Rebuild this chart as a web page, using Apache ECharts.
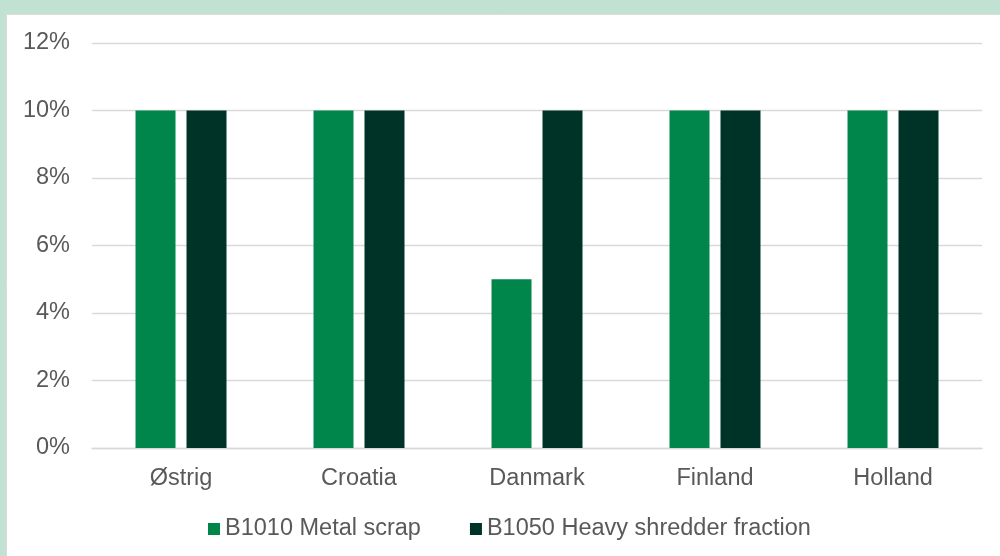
<!DOCTYPE html>
<html>
<head>
<meta charset="utf-8">
<script src="https://cdn.jsdelivr.net/npm/echarts@6/dist/echarts.min.js"></script>
<style>
html,body{margin:0;padding:0;background:#c1e1d3;}
#chart{width:1000px;height:556px;}
</style>
</head>
<body>
<div id="chart"></div>
<script>
const categories = ['Østrig', 'Croatia', 'Danmark', 'Finland', 'Holland'];
const metalScrap = [10, 10, 5, 10, 10];
const heavyShredder = [10, 10, 10, 10, 10];
const seriesNames = ['B1010 Metal scrap', 'B1050 Heavy shredder fraction'];

const chart = echarts.init(document.getElementById('chart'), null, {renderer: 'canvas'});
const font = 'Liberation Sans, Arial, sans-serif';
chart.setOption({
  backgroundColor: '#c1e1d3',
  animation: false,
  graphic: [{
    type: 'rect', left: 6, top: 14, z: -10,
    shape: {width: 1000, height: 560},
    style: {fill: '#ffffff', stroke: '#dcdcdc', lineWidth: 1}
  }],
  grid: {left: 92, right: 18, top: 43, bottom: 108, containLabel: false},
  legend: {
    left: 203, top: 512,
    itemWidth: 12, itemHeight: 12, itemGap: 49,
    icon: 'rect',
    textStyle: {fontFamily: font, fontSize: 23.5, color: '#595959'},
    data: seriesNames
  },
  xAxis: {
    type: 'category', data: categories,
    axisLine: {show: true, lineStyle: {color: '#d9d9d9', width: 1.3}},
    axisTick: {show: false},
    axisLabel: {fontFamily: font, fontSize: 23.5, color: '#595959', margin: 19}
  },
  yAxis: {
    type: 'value', min: 0, max: 12, interval: 2,
    axisLine: {show: false}, axisTick: {show: false},
    splitLine: {lineStyle: {color: '#d9d9d9', width: 1.3}},
    axisLabel: {fontFamily: font, fontSize: 23.5, color: '#595959', margin: 22, formatter: '{value}%'}
  },
  series: [
    {name: seriesNames[0], type: 'bar', data: metalScrap, barWidth: 40, barGap: '27.5%',
     itemStyle: {color: '#00854a'}},
    {name: seriesNames[1], type: 'bar', data: heavyShredder, barWidth: 40,
     itemStyle: {color: '#003327'}}
  ]
});
</script>
</body>
</html>
